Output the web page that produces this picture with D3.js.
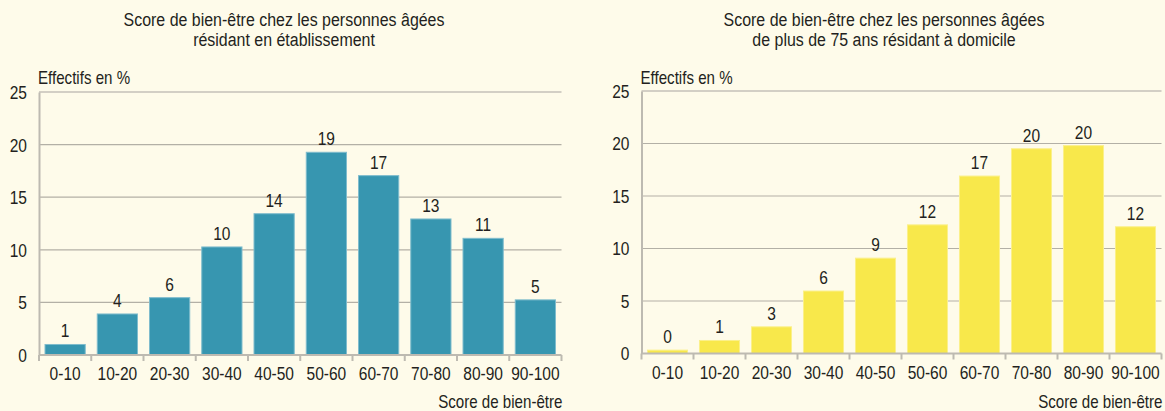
<!DOCTYPE html>
<html>
<head>
<meta charset="utf-8">
<script src="https://cdn.jsdelivr.net/npm/d3@7"></script>
<style>
  html, body { margin: 0; padding: 0; background: #fefbea; }
  svg { display: block; }
  text { font-family: "Liberation Sans", Arial, sans-serif; fill: #231f20; }
</style>
</head>
<body>
<svg id="chart" width="1165" height="411"></svg>
<script>
const categories = ["0-10","10-20","20-30","30-40","40-50","50-60","60-70","70-80","80-90","90-100"];
const yTicks = [0, 5, 10, 15, 20, 25];

const titleLeft = ["Score de bien-être chez les personnes âgées", "résidant en établissement"];
const valuesLeft = [1.0, 3.9, 5.45, 10.27, 13.43, 19.27, 17.05, 12.93, 11.09, 5.24];
const labelsLeft = ["1","4","6","10","14","19","17","13","11","5"];

const titleRight = ["Score de bien-être chez les personnes âgées", "de plus de 75 ans résidant à domicile"];
const valuesRight = [0.32, 1.24, 2.54, 5.95, 9.08, 12.25, 16.9, 19.5, 19.8, 12.07];
const labelsRight = ["0","1","3","6","9","12","17","20","20","12"];

const yAxisTitle = "Effectifs en %";
const xAxisTitle = "Score de bien-être";

const SX = 0.84; // horizontal condensation to mimic a narrow typeface

const svg = d3.select("#chart");

function txt(parent, x, y, str, size, anchor) {
  return parent.append("text")
    .attr("transform", `translate(${x},${y}) scale(${SX},1)`)
    .attr("text-anchor", anchor || "start")
    .style("font-size", size + "px")
    .text(str);
}

function drawPanel(opts) {
  const g = svg.append("g");
  const x = d3.scaleBand().domain(categories).range([opts.x0, opts.x1]).paddingInner(0.23).paddingOuter(0.115);
  const y = d3.scaleLinear().domain([0, 25]).range([opts.yBottom, opts.yTop]);

  // gridlines
  g.append("g").selectAll("line").data(yTicks.filter(d => d > 0)).join("line")
    .attr("x1", opts.x0).attr("x2", opts.x1)
    .attr("y1", d => y(d)).attr("y2", d => y(d))
    .attr("stroke", d => d === 25 ? "#c4c1b8" : "#b3b0a6")
    .attr("stroke-width", d => d === 25 ? 1.6 : 1.2);

  // y axis
  const ya = g.append("g").attr("transform", `translate(${opts.x0},0)`)
    .call(d3.axisLeft(y).tickValues(yTicks).tickSize(0));
  ya.select(".domain").attr("stroke", "#bdbab1").attr("stroke-width", 2);
  ya.selectAll(".tick text")
    .attr("x", 0).attr("dy", "0.35em")
    .attr("transform", `translate(-12,0) scale(${SX},1)`)
    .style("font-size", "18.5px").style("font-family", null).attr("fill", "#231f20");

  // bars
  const data = categories.map((c, i) => ({c, v: opts.values[i], l: opts.labels[i]}));
  g.append("g").selectAll("rect").data(data).join("rect")
    .attr("x", d => x(d.c)).attr("width", x.bandwidth())
    .attr("y", d => y(d.v)).attr("height", d => y(0) - y(d.v))
    .attr("fill", opts.color).attr("stroke", opts.stroke).attr("stroke-width", 1);

  // value labels
  const vl = g.append("g");
  data.forEach(d => txt(vl, x(d.c) + x.bandwidth() / 2, y(d.v) - 7, d.l, 18.5, "middle"));

  // x axis with boundary ticks
  const xa = g.append("g").attr("transform", `translate(0,${opts.yBottom})`);
  xa.append("line").attr("x1", opts.x0).attr("x2", opts.x1).attr("y1", 0).attr("y2", 0)
    .attr("stroke", "#bdbab1").attr("stroke-width", 2);
  const step = x.step();
  const bounds = d3.range(categories.length + 1).map(i => opts.x0 + i * step);
  xa.selectAll("line.tk").data(bounds).join("line").attr("class", "tk")
    .attr("x1", d => d).attr("x2", d => d).attr("y1", 0).attr("y2", 6)
    .attr("stroke", "#bdbab1").attr("stroke-width", 2);
  categories.forEach(c => txt(xa, x(c) + x.bandwidth() / 2, 25, c, 18.5, "middle"));

  // axis titles
  txt(g, opts.x0 - 1, 84, yAxisTitle, 18, "start");
  txt(g, opts.x1 + 1, 408, xAxisTitle, 18, "end");

  // title
  opts.title.forEach((t, i) => txt(g, opts.titleX, 26 + i * 20, t, 19, "middle"));
}

drawPanel({x0: 39, x1: 561.5, yTop: 92, yBottom: 355, values: valuesLeft, labels: labelsLeft,
  color: "#3796b0", stroke: "#7fbccd", title: titleLeft, titleX: 284});
drawPanel({x0: 641.5, x1: 1161.5, yTop: 91, yBottom: 353.5, values: valuesRight, labels: labelsRight,
  color: "#f8e84b", stroke: "#fbf08a", title: titleRight, titleX: 884});
</script>
</body>
</html>
